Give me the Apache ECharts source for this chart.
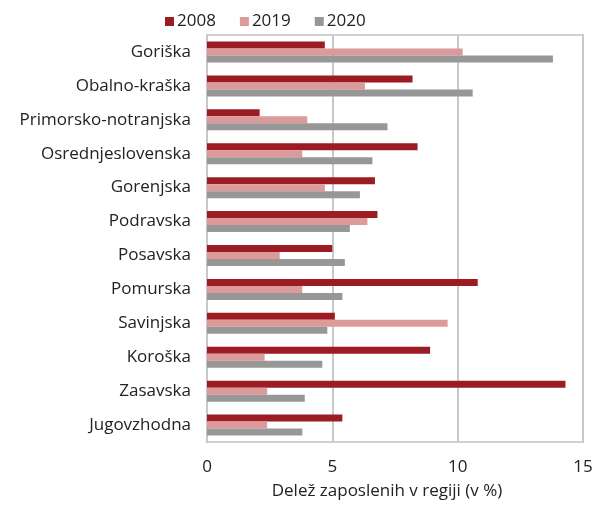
<!DOCTYPE html>
<html>
<head>
<meta charset="utf-8">
<script src="https://cdn.jsdelivr.net/npm/echarts@6/dist/echarts.min.js"></script>
<style>
  html, body { margin: 0; padding: 0; background: #fff; }
  #chart { width: 596px; height: 505px; }
</style>
</head>
<body>
<div id="chart"></div>
<script>
// regije
const categories = ['Goriška', 'Obalno-kraška', 'Primorsko-notranjska', 'Osrednjeslovenska', 'Gorenjska',
  'Podravska', 'Posavska', 'Pomurska', 'Savinjska', 'Koroška', 'Zasavska', 'Jugovzhodna']
const seriesNames = ['2008', '2019', '2020']
const values2008 = [4.7, 8.2, 2.1, 8.4, 6.7, 6.8, 5.0, 10.8, 5.1, 8.9, 14.3, 5.4]
const values2019 = [10.2, 6.3, 4.0, 3.8, 4.7, 6.4, 2.9, 3.8, 9.6, 2.3, 2.4, 2.4]
const values2020 = [13.8, 10.6, 7.2, 6.6, 6.1, 5.7, 5.5, 5.4, 4.8, 4.6, 3.9, 3.8]
const xTicks = [0, 5, 10, 15]

const colors = ['#9c1c23', '#dc9a9b', '#979797']
const fontFamily = '"Open Sans", "Noto Sans", sans-serif'

const chart = echarts.init(document.getElementById('chart'))

const makeSeries = (name, data) => ({
  name,
  type: 'bar',
  data,
  barWidth: 7,
  barGap: '0%',
  barCategoryGap: '38%',
  itemStyle: { borderWidth: 0 }
})

const options = {
  animation: false,
  color: colors,
  textStyle: { fontFamily },
  legend: {
    top: 8,
    left: 160,
    itemWidth: 9,
    itemHeight: 9,
    itemGap: 24,
    icon: 'rect',
    textStyle: { fontSize: 17, color: '#222', fontFamily, padding: [0, 0, 0, -2] },
    data: seriesNames
  },
  grid: {
    left: 207,
    right: 13,
    top: 35,
    bottom: 63,
    show: true,
    borderColor: '#d0d0d0',
    borderWidth: 2,
    containLabel: false,
    outerBoundsMode: 'none'
  },
  xAxis: {
    type: 'value',
    min: xTicks[0],
    max: xTicks[xTicks.length - 1],
    interval: 5,
    name: 'Delež zaposlenih v regiji (v %)',
    nameLocation: 'middle',
    nameGap: 41,
    nameTextStyle: { fontSize: 17, color: '#222', fontFamily, padding: [0, 16, 0, 0] },
    axisLine: { show: false },
    axisTick: { show: false },
    axisLabel: { fontSize: 17, color: '#222', margin: 17, fontFamily },
    splitLine: { show: true, lineStyle: { color: '#c8c8c8', width: 2 } }
  },
  yAxis: {
    type: 'category',
    inverse: true,
    data: categories,
    axisLine: { show: true, lineStyle: { color: '#c8c8c8', width: 2 } },
    axisTick: { show: false },
    axisLabel: { fontSize: 17, color: '#222', margin: 16, fontFamily }
  },
  series: [
    makeSeries(seriesNames[0], values2008),
    makeSeries(seriesNames[1], values2019),
    makeSeries(seriesNames[2], values2020)
  ]
}

chart.setOption(options)
</script>
</body>
</html>
